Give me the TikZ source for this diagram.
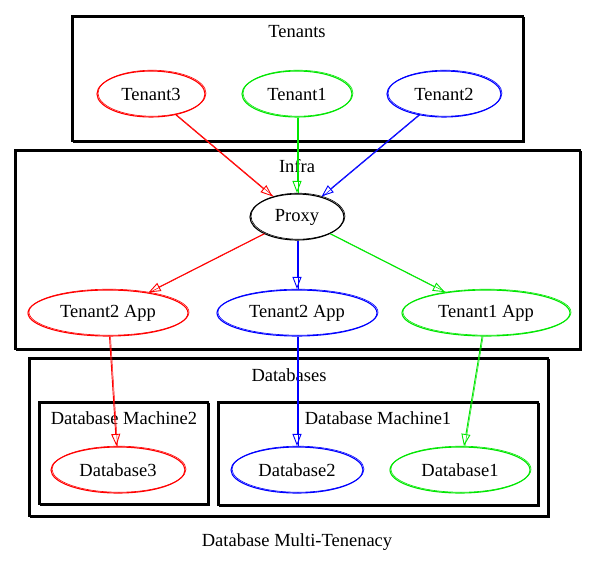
\documentclass[tikz,border=0pt]{standalone}
\usepackage{fontspec}
\setmainfont{Liberation Serif}
\usetikzlibrary{shapes.geometric,arrows.meta}
\definecolor{cred}{RGB}{255,0,0}
\definecolor{cgreen}{RGB}{0,230,0}
\definecolor{cblue}{RGB}{0,0,255}
\tikzset{
  ell/.style={ellipse, draw=#1, line width=1.1pt, inner sep=0pt, minimum height=46pt, font=\fontsize{18.5}{22}\selectfont,
    preaction={draw=#1, line width=0.6pt, transform canvas={xshift=1pt, yshift=0.8pt}}},
  cluster/.style={rectangle, draw=black, line width=1.1pt, inner sep=0pt,
    preaction={draw=black, line width=0.5pt, transform canvas={xshift=0.8pt, yshift=-0.8pt}}},
  lbl/.style={font=\fontsize{18.5}{22}\selectfont, inner sep=0pt},
  edge/.style={draw=#1, line width=0.9pt, -{Triangle[open, length=12pt, width=9pt, line width=0.9pt]},
    preaction={draw=#1, line width=0.5pt, -, transform canvas={xshift=1pt}}, shorten >=0.5pt}
}
\begin{document}
\begin{tikzpicture}[x=1pt,y=-1pt]
\useasboundingbox (0,0) rectangle (595,565);
% clusters
\node[cluster, minimum width=451pt, minimum height=125pt] (cTen) at (297.5,78.5) {};
\node[cluster, minimum width=565pt, minimum height=199pt] (cInf) at (297.5,249.5) {};
\node[cluster, minimum width=519pt, minimum height=158pt] (cDb) at (288.5,437) {};
\node[cluster, minimum width=169pt, minimum height=102pt] (cDm2) at (123.5,453) {};
\node[cluster, minimum width=320pt, minimum height=103pt] (cDm1) at (378,453.5) {};
% cluster labels
\node[lbl] (lTen) at (297,32) {Tenants};
\node[lbl] (lInf) at (297,166) {Infra};
\node[lbl] (lDb) at (289,375) {Databases};
\node[lbl] (lDm2) at (124,418) {Database Machine2};
\node[lbl] (lDm1) at (378,418) {Database Machine1};
\node[lbl] (lTitle) at (297,542) {Database Multi-Tenenacy};
% nodes
\node[ell=cred, minimum width=108pt] (t3) at (151,94) {Tenant3};
\node[ell=cgreen, minimum width=110pt] (t1) at (297,94) {Tenant1};
\node[ell=cblue, minimum width=114pt] (t2) at (444,94) {Tenant2};
\node[ell=black, minimum width=94pt] (px) at (297,217) {Proxy};
\node[ell=cred, minimum width=160pt] (a3) at (108,313) {Tenant2 App};
\node[ell=cblue, minimum width=160pt] (a2) at (297,313) {Tenant2 App};
\node[ell=cgreen, minimum width=168pt] (a1) at (486,313) {Tenant1 App};
\node[ell=cred, minimum width=134pt] (d3) at (118,470) {Database3};
\node[ell=cblue, minimum width=132pt] (d2) at (297,470) {Database2};
\node[ell=cgreen, minimum width=140pt] (d1) at (460,470) {Database1};
% edges
\draw[edge=cred] (t3) -- (px);
\draw[edge=cgreen] (t1) -- (px);
\draw[edge=cblue] (t2) -- (px);
\draw[edge=cred] (px) -- (a3);
\draw[edge=cblue] (px) -- (a2);
\draw[edge=cgreen] (px) -- (a1);
\draw[edge=cred] (a3) -- (d3);
\draw[edge=cblue] (a2) -- (d2);
\draw[edge=cgreen] (a1) -- (d1);
\end{tikzpicture}
\end{document}
